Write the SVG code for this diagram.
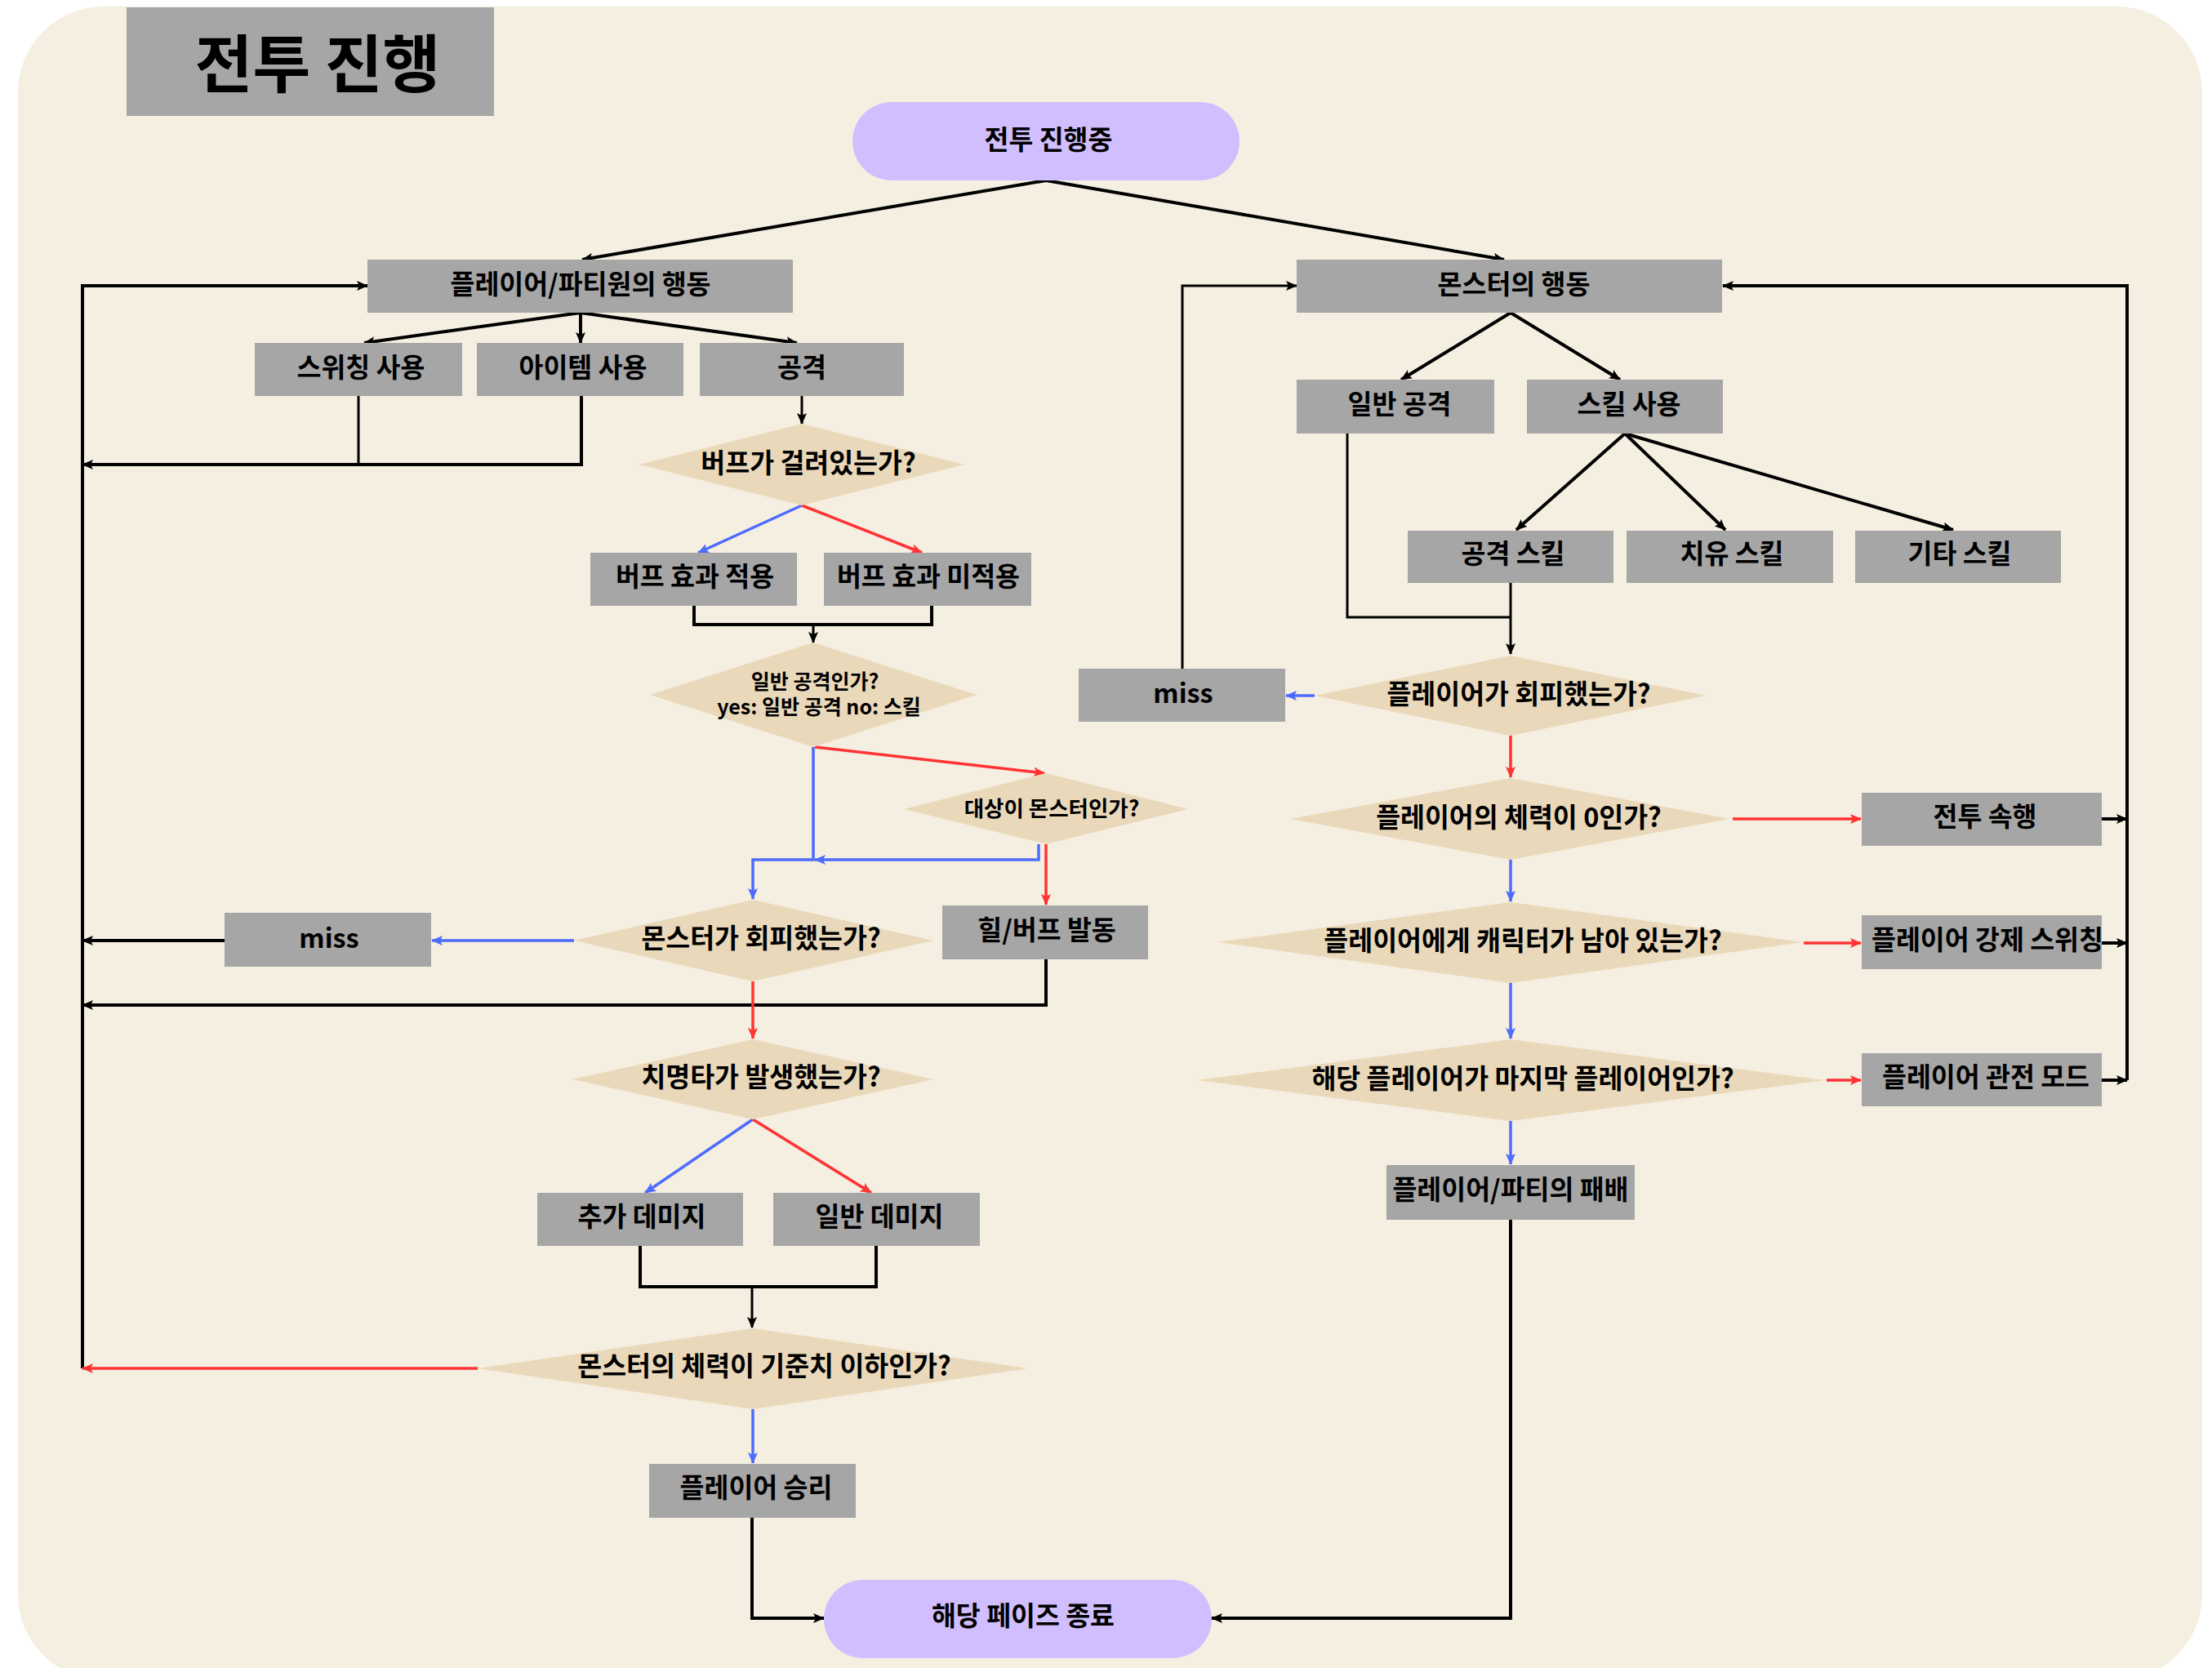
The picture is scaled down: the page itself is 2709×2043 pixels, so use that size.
<svg xmlns="http://www.w3.org/2000/svg" width="2709" height="2043" viewBox="0 0 2709 2043">
<defs>
<style>
.bg{fill:#F5EFE1}
.box{fill:#A6A6A6}
.dia{fill:#EAD8BA}
.pill{fill:#D1BEFE}
text{font-family:"Noto Sans CJK KR","Liberation Sans",sans-serif;font-weight:bold;fill:#000;text-anchor:middle;dominant-baseline:central}
.t30{font-size:32.5px}
.t24{font-size:25px}
.t26{font-size:26.5px}
.ttl{font-size:77px}
.k{fill:none;stroke:#000;stroke-width:4}
.kt{fill:none;stroke:#000;stroke-width:3}
.b{fill:none;stroke:#4D6BFE;stroke-width:3.5}
.r{fill:none;stroke:#FF3333;stroke-width:3.5}
</style>
<marker id="ak" viewBox="0 0 14 12" refX="13" refY="6" markerWidth="14" markerHeight="12" markerUnits="userSpaceOnUse" orient="auto"><path d="M0,0 L14,6 L0,12 L3,6 z" fill="#000"/></marker>
<marker id="ab" viewBox="0 0 14 12" refX="13" refY="6" markerWidth="14" markerHeight="12" markerUnits="userSpaceOnUse" orient="auto"><path d="M0,0 L14,6 L0,12 L3,6 z" fill="#4D6BFE"/></marker>
<marker id="ar" viewBox="0 0 14 12" refX="13" refY="6" markerWidth="14" markerHeight="12" markerUnits="userSpaceOnUse" orient="auto"><path d="M0,0 L14,6 L0,12 L3,6 z" fill="#FF3333"/></marker>
</defs>
<rect class="bg" x="22" y="8" width="2675" height="2050" rx="105" ry="105"/>
<g id="title"><rect class="box" x="155" y="9" width="450" height="133"/><text class="ttl" x="389" y="73">전투 진행</text></g>

<g id="connectors">
<path class="k" d="M1281,221 L713,318" marker-end="url(#ak)"/>
<path class="k" d="M1281,221 L1842,318" marker-end="url(#ak)"/>
<path class="k" d="M711,383 L446,420" marker-end="url(#ak)"/>
<path class="k" d="M711,383 L711,420" marker-end="url(#ak)"/>
<path class="k" d="M711,383 L976,420" marker-end="url(#ak)"/>
<path class="kt" d="M439,485 L439,569"/>
<path class="k" d="M712,485 L712,569 L101,569" marker-end="url(#ak)"/>
<path class="kt" d="M982,485 L982,519" marker-end="url(#ak)"/>
<path class="k" d="M850,742 L850,765 L1141,765 L1141,742"/>
<path class="kt" d="M996,765 L996,787" marker-end="url(#ak)"/>
<path class="k" d="M1281,1175 L1281,1231 L101,1231" marker-end="url(#ak)"/>
<path class="k" d="M275,1152 L101,1152" marker-end="url(#ak)"/>
<path class="k" d="M101,1676 L101,350 L450,350" marker-end="url(#ak)"/>
<path class="k" d="M784,1526 L784,1576 L1073,1576 L1073,1526"/>
<path class="kt" d="M921,1576 L921,1626" marker-end="url(#ak)"/>
<path class="k" d="M921,1859 L921,1982 L1009,1982" marker-end="url(#ak)"/>
<path class="k" d="M1850,383 L1716,465" marker-end="url(#ak)"/>
<path class="k" d="M1850,383 L1984,465" marker-end="url(#ak)"/>
<path class="k" d="M1990,531 L1857,649" marker-end="url(#ak)"/>
<path class="k" d="M1990,531 L2113,649" marker-end="url(#ak)"/>
<path class="k" d="M1990,531 L2392,649" marker-end="url(#ak)"/>
<path class="kt" d="M1650,531 L1650,756 L1850,756"/>
<path class="kt" d="M1850,714 L1850,801" marker-end="url(#ak)"/>
<path class="kt" d="M1448,819 L1448,350 L1588,350" marker-end="url(#ak)"/>
<path class="k" d="M2605,1323 L2605,350 L2110,350" marker-end="url(#ak)"/>
<path class="k" d="M2574,1003 L2605,1003" marker-end="url(#ak)"/>
<path class="k" d="M2574,1155 L2605,1155" marker-end="url(#ak)"/>
<path class="k" d="M2574,1323 L2605,1323" marker-end="url(#ak)"/>
<path class="k" d="M1850,1494 L1850,1982 L1484,1982" marker-end="url(#ak)"/>

<path class="b" d="M982,619 L855,677" marker-end="url(#ab)"/>
<path class="b" d="M996,915 L996,1053 L922,1053 L922,1101" marker-end="url(#ab)"/>
<path class="b" d="M1272,1034 L1272,1053 L998,1053" marker-end="url(#ab)"/>
<path class="b" d="M703,1152 L529,1152" marker-end="url(#ab)"/>
<path class="b" d="M922,1371 L790,1461" marker-end="url(#ab)"/>
<path class="b" d="M922,1726 L922,1792" marker-end="url(#ab)"/>
<path class="b" d="M1610,852 L1575,852" marker-end="url(#ab)"/>
<path class="b" d="M1850,1053 L1850,1104" marker-end="url(#ab)"/>
<path class="b" d="M1850,1204 L1850,1272" marker-end="url(#ab)"/>
<path class="b" d="M1850,1373 L1850,1426" marker-end="url(#ab)"/>

<path class="r" d="M982,619 L1129,677" marker-end="url(#ar)"/>
<path class="r" d="M998,915 L1279,947" marker-end="url(#ar)"/>
<path class="r" d="M1281,1034 L1281,1108" marker-end="url(#ar)"/>
<path class="r" d="M922,1202 L922,1272" marker-end="url(#ar)"/>
<path class="r" d="M922,1371 L1067,1461" marker-end="url(#ar)"/>
<path class="r" d="M585,1676 L101,1676" marker-end="url(#ar)"/>
<path class="r" d="M1850,901 L1850,952" marker-end="url(#ar)"/>
<path class="r" d="M2122,1003 L2279,1003" marker-end="url(#ar)"/>
<path class="r" d="M2209,1155 L2279,1155" marker-end="url(#ar)"/>
<path class="r" d="M2237,1323 L2279,1323" marker-end="url(#ar)"/>
</g>

<g id="start"><rect class="pill" x="1044" y="125" width="474" height="96" rx="48" ry="48"/><text class="t30" x="1284" y="168">전투 진행중</text></g>
<g id="player_action"><rect class="box" x="450" y="318" width="521" height="65"/><text class="t30" x="711" y="345">플레이어/파티원의 행동</text></g>
<g id="monster_action"><rect class="box" x="1588" y="318" width="521" height="65"/><text class="t30" x="1854" y="345">몬스터의 행동</text></g>
<g id="switching"><rect class="box" x="312" y="420" width="254" height="65"/><text class="t30" x="442" y="447">스위칭 사용</text></g>
<g id="item"><rect class="box" x="584" y="420" width="253" height="65"/><text class="t30" x="714" y="447">아이템 사용</text></g>
<g id="attack"><rect class="box" x="857" y="420" width="250" height="65"/><text class="t30" x="982" y="447">공격</text></g>
<g id="buff_q"><polygon class="dia" points="982,519 1181,569 982,619 783,569"/><text class="t30" x="990" y="564">버프가 걸려있는가?</text></g>
<g id="buff_on"><rect class="box" x="723" y="677" width="253" height="65"/><text class="t30" x="851" y="703">버프 효과 적용</text></g>
<g id="buff_off"><rect class="box" x="1009" y="677" width="254" height="65"/><text class="t30" x="1137" y="703">버프 효과 미적용</text></g>
<g id="normal_q"><polygon class="dia" points="996,787 1196,851 996,915 796,851"/><text class="t24" x="998" y="833">일반 공격인가?</text><text class="t24" x="1003" y="864">yes: 일반 공격 no: 스킬</text></g>
<g id="target_q"><polygon class="dia" points="1281,947 1455,991 1281,1034 1107,991"/><text class="t26" x="1288" y="988">대상이 몬스터인가?</text></g>
<g id="heal_buff"><rect class="box" x="1154" y="1109" width="252" height="66"/><text class="t30" x="1282" y="1136">힐/버프 발동</text></g>
<g id="monster_evade"><polygon class="dia" points="922,1102 1143,1152 922,1202 703,1152"/><text class="t30" x="932" y="1146">몬스터가 회피했는가?</text></g>
<g id="miss_left"><rect class="box" x="275" y="1118" width="253" height="66"/><text class="t30" x="403" y="1146">miss</text></g>
<g id="crit_q"><polygon class="dia" points="922,1273 1143,1322 922,1371 701,1322"/><text class="t30" x="932" y="1316">치명타가 발생했는가?</text></g>
<g id="extra_dmg"><rect class="box" x="658" y="1461" width="252" height="65"/><text class="t30" x="786" y="1487">추가 데미지</text></g>
<g id="normal_dmg"><rect class="box" x="947" y="1461" width="253" height="65"/><text class="t30" x="1077" y="1487">일반 데미지</text></g>
<g id="monster_hp_q"><polygon class="dia" points="922,1627 1259,1676 922,1726 585,1676"/><text class="t30" x="936" y="1670">몬스터의 체력이 기준치 이하인가?</text></g>
<g id="victory"><rect class="box" x="795" y="1793" width="253" height="66"/><text class="t30" x="926" y="1819">플레이어 승리</text></g>
<g id="end"><rect class="pill" x="1009" y="1935" width="475" height="96" rx="48" ry="48"/><text class="t30" x="1253" y="1976">해당 페이즈 종료</text></g>

<g id="normal_attack"><rect class="box" x="1588" y="465" width="242" height="66"/><text class="t30" x="1714" y="492">일반 공격</text></g>
<g id="skill_use"><rect class="box" x="1870" y="465" width="240" height="66"/><text class="t30" x="1995" y="492">스킬 사용</text></g>
<g id="attack_skill"><rect class="box" x="1724" y="650" width="252" height="64"/><text class="t30" x="1853" y="675">공격 스킬</text></g>
<g id="heal_skill"><rect class="box" x="1992" y="650" width="253" height="64"/><text class="t30" x="2121" y="675">치유 스킬</text></g>
<g id="etc_skill"><rect class="box" x="2272" y="650" width="252" height="64"/><text class="t30" x="2400" y="675">기타 스킬</text></g>
<g id="player_evade"><polygon class="dia" points="1850,803 2089,852 1850,901 1610,852"/><text class="t30" x="1860" y="847">플레이어가 회피했는가?</text></g>
<g id="miss_right"><rect class="box" x="1321" y="819" width="253" height="65"/><text class="t30" x="1449" y="846">miss</text></g>
<g id="player_hp_q"><polygon class="dia" points="1850,953 2118,1003 1850,1053 1580,1003"/><text class="t30" x="1860" y="998">플레이어의 체력이 0인가?</text></g>
<g id="continue"><rect class="box" x="2280" y="971" width="294" height="65"/><text class="t30" x="2431" y="997">전투 속행</text></g>
<g id="char_left_q"><polygon class="dia" points="1850,1105 2208,1154 1850,1204 1491,1154"/><text class="t30" x="1865" y="1149">플레이어에게 캐릭터가 남아 있는가?</text></g>
<g id="force_switch"><rect class="box" x="2280" y="1121" width="294" height="66"/><text class="t30" x="2434" y="1148">플레이어 강제 스위칭</text></g>
<g id="last_q"><polygon class="dia" points="1850,1273 2235,1323 1850,1373 1466,1323"/><text class="t30" x="1865" y="1318">해당 플레이어가 마지막 플레이어인가?</text></g>
<g id="spectate"><rect class="box" x="2280" y="1290" width="294" height="65"/><text class="t30" x="2432" y="1316">플레이어 관전 모드</text></g>
<g id="defeat"><rect class="box" x="1698" y="1427" width="304" height="67"/><text class="t30" x="1850" y="1454">플레이어/파티의 패배</text></g>
</svg>
